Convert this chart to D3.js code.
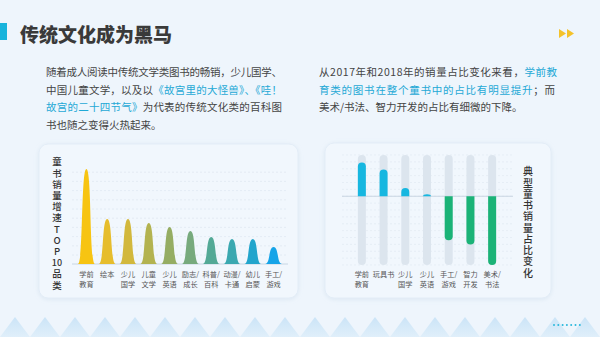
<!DOCTYPE html>
<html>
<head>
<meta charset="utf-8">
<script src="https://cdn.jsdelivr.net/npm/d3@7"></script>
<style>
  html, body { margin: 0; padding: 0; background: #eef5fc; }
  svg { display: block; font-family: "Noto Sans CJK SC", "Noto Sans", sans-serif; }
  .vert { writing-mode: vertical-rl; text-orientation: upright; }
</style>
</head>
<body>
<div id="chart"></div>
<script>
// ---- data ----
var peakCats = ["学前\n教育", "绘本", "少儿\n国学", "儿童\n文学", "少儿\n英语", "励志/\n成长", "科普/\n百科", "动漫/\n卡通", "幼儿\n启蒙", "手工/\n游戏"];
var peakValues = [95, 45, 45, 41, 37, 33, 27, 25, 25, 17];

var changeCats = ["学前\n教育", "玩具书", "少儿\n国学", "少儿\n英语", "手工/\n游戏", "智力\n开发", "美术/\n书法"];
var changeValues = [4.9, 3.9, 1.2, 0.3, -6.4, -7.0, -10.0];

var leftTitle = ["童", "书", "销", "量", "增", "速", "T", "O", "P", "10", "品", "类"];
var rightTitle = ["典", "型", "童", "书", "销", "量", "占", "比", "变", "化"];

var leftText = [
  [["随着成人阅读中传统文学类图书的畅销，少儿国学、", 0]],
  [["中国儿童文学，以及以", 0], ["《故宫里的大怪兽》、《哇！", 1]],
  [["故宫的二十四节气》", 1], ["为代表的传统文化类的百科图", 0]],
  [["书也随之变得火热起来。", 0]]
];
var rightText = [
  [["从2017年和2018年的销量占比变化来看，", 0], ["学前教", 1]],
  [["育类的图书在整个童书中的占比有明显提升", 1], ["；而", 0]],
  [["美术/书法、智力开发的占比有细微的下降。", 0]]
];

var W = 600, H = 337;
var svg = d3.select("#chart").append("svg").attr("width", W).attr("height", H);
var defs = svg.append("defs");

svg.append("rect").attr("width", W).attr("height", H).attr("fill", "#eef5fc");

// shadow for cards
var f = defs.append("filter").attr("id", "shadow").attr("x", "-10%").attr("y", "-10%").attr("width", "120%").attr("height", "120%");
f.append("feDropShadow").attr("dx", 0).attr("dy", 1).attr("stdDeviation", 2)
  .attr("flood-color", "#b8cde0").attr("flood-opacity", 0.35);

// triangle gradient
var tg = defs.append("linearGradient").attr("id", "triGrad").attr("x1", 0).attr("y1", 0).attr("x2", 0).attr("y2", 1);
tg.append("stop").attr("offset", "0%").attr("stop-color", "#cbe4f7");
tg.append("stop").attr("offset", "100%").attr("stop-color", "#e0effa");

// bottom triangles
svg.append("g").selectAll("path")
  .data(d3.range(0, 21))
  .enter().append("path")
  .attr("d", function(i) {
    var cx = 15 + i * 30;
    return "M" + (cx - 15) + "," + H + "L" + cx + ",317L" + (cx + 15) + "," + H + "Z";
  })
  .attr("fill", "url(#triGrad)");

// dots bottom right
svg.append("g").selectAll("circle")
  .data(d3.range(0, 7))
  .enter().append("circle")
  .attr("cx", function(i) { return 554 + i * 4.3; })
  .attr("cy", 325)
  .attr("r", 1)
  .attr("fill", "#2ab8dc");

// title
svg.append("rect").attr("x", 0).attr("y", 23).attr("width", 7).attr("height", 17).attr("fill", "#18b4dc");
svg.append("text").attr("x", 20).attr("y", 42)
  .attr("font-size", 19).attr("font-weight", 900).attr("fill", "#3a3a3a")
  .text("传统文化成为黑马");

// double arrow
svg.append("g").selectAll("path")
  .data([559, 567])
  .enter().append("path")
  .attr("d", function(x) { return "M" + x + ",29L" + (x + 7) + ",33.5L" + x + ",38Z"; })
  .attr("fill", "#f4c22b");

// paragraphs
function para(lines, x, y0, lh, widths) {
  lines.forEach(function(parts, i) {
    var t = svg.append("text").attr("x", x).attr("y", y0 + i * lh)
      .attr("font-size", 10.5).attr("fill", "#444");
    if (widths[i]) t.attr("textLength", widths[i]).attr("lengthAdjust", "spacing");
    parts.forEach(function(p) {
      t.append("tspan").attr("fill", p[1] ? "#1fa9d6" : "#444").text(p[0]);
    });
  });
}
para(leftText, 46, 76, 17.5, [236, 236, 236, 0]);
para(rightText, 319, 76, 17.5, [238, 236, 0]);

// cards
svg.append("rect").attr("x", 39).attr("y", 144).attr("width", 259).attr("height", 154).attr("rx", 9)
  .attr("fill", "#f1f7fd").attr("stroke", "#e3edf7").attr("filter", "url(#shadow)");
svg.append("rect").attr("x", 325).attr("y", 143).attr("width", 226).attr("height", 155).attr("rx", 9)
  .attr("fill", "#f1f7fd").attr("stroke", "#e3edf7").attr("filter", "url(#shadow)");

// vertical titles: runs of single chars written vertically, longer items (like "10") horizontal
function vTitle(chars, x, y0, step, size) {
  var runs = [], cur = null;
  chars.forEach(function(c, i) {
    if (c.length === 1) {
      if (!cur) { cur = { start: i, text: "" }; runs.push(cur); }
      cur.text += c;
    } else {
      cur = null;
      runs.push({ start: i, text: c, horiz: true });
    }
  });
  runs.forEach(function(r) {
    var t = svg.append("text").attr("font-size", size).attr("font-weight", 500).attr("fill", "#333");
    if (r.horiz) {
      t.attr("x", x).attr("y", y0 + r.start * step + size * 0.5 + size * 0.36)
        .attr("text-anchor", "middle").attr("font-size", size * 0.95).text(r.text);
    } else {
      t.attr("class", "vert").attr("x", x).attr("y", y0 + r.start * step)
        .style("letter-spacing", (step - size) + "px").text(r.text);
    }
  });
}

// two-line category labels, one text per line
function catLabels(g, cats, xf) {
  cats.forEach(function(d, i) {
    d.split("\n").forEach(function(s, k) {
      g.append("text")
        .attr("x", xf(i)).attr("y", 276.5 + k * 10)
        .attr("text-anchor", "middle").attr("font-size", 7.2).attr("fill", "#555")
        .text(s);
    });
  });
}

// ---- left chart: peaks ----
var x1 = d3.scaleBand().domain(d3.range(peakCats.length)).range([76, 284]).padding(0);
var y1 = d3.scaleLinear().domain([0, 100]).range([264, 164]);
var colorStops = ["#f7c412", "#e6bd2c", "#d2b83c", "#b3b350", "#95ad63", "#77aa7d", "#53a996", "#3aa8b0", "#22a5cc", "#16a4e8"];

var g1 = svg.append("g");
g1.selectAll("line.grid")
  .data(d3.range(9, 101, 9.2))
  .enter().append("line")
  .attr("x1", 72).attr("x2", 288)
  .attr("y1", function(d) { return y1(d); }).attr("y2", function(d) { return y1(d); })
  .attr("stroke", "#dfe8f1").attr("stroke-width", 0.8).attr("stroke-dasharray", "2,2");
g1.append("line").attr("x1", 72).attr("x2", 288).attr("y1", y1(0)).attr("y2", y1(0))
  .attr("stroke", "#c8d6e3").attr("stroke-width", 1);

g1.selectAll("path.peak")
  .data(peakValues)
  .enter().append("path")
  .attr("class", "peak")
  .attr("d", function(d, i) {
    var cx = x1(i) + x1.bandwidth() / 2, w = 17, b = y1(0), t = y1(d);
    return "M" + (cx - w / 2) + "," + b
      + "C" + (cx - w * 0.18) + "," + b + " " + (cx - w * 0.32) + "," + t + " " + cx + "," + t
      + "C" + (cx + w * 0.32) + "," + t + " " + (cx + w * 0.18) + "," + b + " " + (cx + w / 2) + "," + b + "Z";
  })
  .attr("fill", function(d, i) { return colorStops[i]; });

catLabels(g1, peakCats, function(i) { return x1(i) + x1.bandwidth() / 2; });

vTitle(leftTitle, 57, 157, 11.2, 9.5);

// ---- right chart: change bars ----
var x2 = d3.scaleBand().domain(d3.range(changeCats.length)).range([351, 503]).padding(0);
var y2 = d3.scaleLinear().domain([-10, 6]).range([265, 155]);
var g2 = svg.append("g");

g2.selectAll("line.grid")
  .data(d3.range(-10, 6.01, 1))
  .enter().append("line")
  .attr("x1", 342).attr("x2", 513)
  .attr("y1", function(d) { return y2(d); }).attr("y2", function(d) { return y2(d); })
  .attr("stroke", "#e1e9f2").attr("stroke-width", 0.7).attr("stroke-dasharray", "2,2");

var bw = 8;
function cx2(i) { return x2(i) + x2.bandwidth() / 2; }

g2.selectAll("rect.track")
  .data(changeCats)
  .enter().append("rect")
  .attr("x", function(d, i) { return cx2(i) - bw / 2; })
  .attr("y", y2(6)).attr("width", bw).attr("height", y2(-10) - y2(6))
  .attr("rx", bw / 2).attr("fill", "#dce5ee");

g2.append("line").attr("x1", 342).attr("x2", 513).attr("y1", y2(0)).attr("y2", y2(0))
  .attr("stroke", "#c9d6e2").attr("stroke-width", 1);

g2.selectAll("path.bar")
  .data(changeValues)
  .enter().append("path")
  .attr("d", function(d, i) {
    var l = cx2(i) - bw / 2, r = cx2(i) + bw / 2, z = y2(0), e = y2(d);
    var h = Math.abs(z - e), rr = Math.min(bw / 2, h);
    if (d >= 0) {
      return "M" + l + "," + z + "L" + l + "," + (e + rr)
        + "A" + (bw / 2) + "," + rr + " 0 0 1 " + r + "," + (e + rr)
        + "L" + r + "," + z + "Z";
    }
    return "M" + l + "," + z + "L" + l + "," + (e - rr)
      + "A" + (bw / 2) + "," + rr + " 0 0 0 " + r + "," + (e - rr)
      + "L" + r + "," + z + "Z";
  })
  .attr("fill", function(d) { return d >= 0 ? "#17b7e0" : "#1bb377"; });

catLabels(g2, changeCats, cx2);

vTitle(rightTitle, 528, 166.5, 11.25, 10);
</script>
</body>
</html>
